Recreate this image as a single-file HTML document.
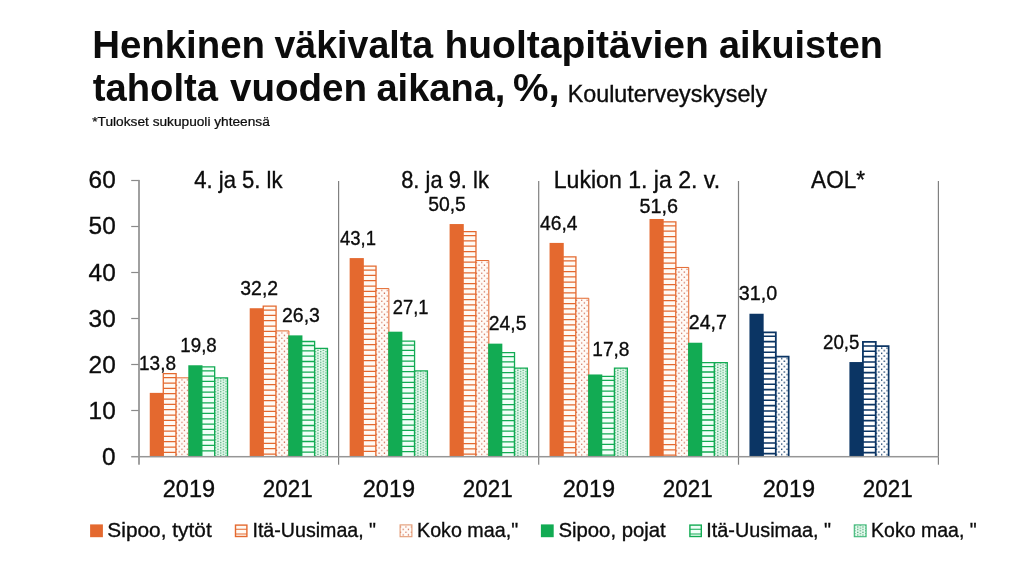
<!DOCTYPE html>
<html lang="fi"><head><meta charset="utf-8"><title>Henkinen väkivalta huoltapitävien aikuisten taholta vuoden aikana</title>
<style>
html,body{margin:0;padding:0;background:#fff}
svg{display:block}
text{font-family:"Liberation Sans", sans-serif;fill:#0c0c0c}
.sub,.axis,.legend,.data{stroke:#0c0c0c;stroke-width:0.35px}
.note{stroke:#0c0c0c;stroke-width:0.25px}
</style></head><body>
<svg width="1024" height="563" viewBox="0 0 1024 563">
<rect width="1024" height="563" fill="#fff"/>
<defs>
<pattern id="od" width="5.333" height="5.333" patternUnits="userSpaceOnUse"><rect width="5.333" height="5.333" fill="#FFFBF7"/><rect x="-0.15" y="1.4" width="1.2" height="1.2" fill="#C9563A"/><rect x="2.45" y="4.0" width="1.2" height="1.2" fill="#C9563A"/></pattern>
<pattern id="nd" width="5.333" height="5.333" patternUnits="userSpaceOnUse"><rect width="5.333" height="5.333" fill="#FFFFFF"/><rect x="-0.2" y="1.3" width="1.4" height="1.4" fill="#0B3564"/><rect x="2.4" y="3.9" width="1.4" height="1.4" fill="#0B3564"/></pattern>
<pattern id="gd" width="5.333" height="2.667" patternUnits="userSpaceOnUse"><rect width="5.333" height="2.667" fill="#E4FBEE"/><rect x="0.15" y="0.2" width="1.15" height="0.95" fill="#08803D"/><rect x="2.82" y="1.53" width="1.15" height="0.95" fill="#08803D"/></pattern>
</defs>
<g id="axes">
<rect x="138.1" y="179.9" width="1.8" height="284.8" fill="#969696"/>
<rect x="131.2" y="179.90" width="7.5" height="1.2" fill="#8A8A8A"/>
<rect x="131.2" y="225.90" width="7.5" height="1.2" fill="#8A8A8A"/>
<rect x="131.2" y="271.90" width="7.5" height="1.2" fill="#8A8A8A"/>
<rect x="131.2" y="317.90" width="7.5" height="1.2" fill="#8A8A8A"/>
<rect x="131.2" y="363.90" width="7.5" height="1.2" fill="#8A8A8A"/>
<rect x="131.2" y="409.90" width="7.5" height="1.2" fill="#8A8A8A"/>
<rect x="338.00" y="181" width="1.2" height="283.7" fill="#808080"/>
<rect x="538.10" y="181" width="1.2" height="283.7" fill="#808080"/>
<rect x="737.90" y="181" width="1.2" height="283.7" fill="#808080"/>
<rect x="937.80" y="181" width="1.2" height="283.7" fill="#808080"/>
</g>
<g id="bars">
<rect x="149.76" y="392.87" width="14.19" height="63.63" fill="#E4692F"/>
<g transform="translate(163.28 373.70)"><rect width="12.85" height="82.80" fill="#FFFAF4"/><path d="M0 4.00h12.85M0 9.33h12.85M0 14.67h12.85M0 20.00h12.85M0 25.33h12.85M0 30.66h12.85M0 36.00h12.85M0 41.33h12.85M0 46.66h12.85M0 52.00h12.85M0 57.33h12.85M0 62.66h12.85M0 68.00h12.85M0 73.33h12.85M0 78.66h12.85" stroke="#E4692F" stroke-width="1.25" fill="none"/><path d="M0 82.80V0H12.85V82.80" fill="none" stroke="#E4692F" stroke-width="1.3"/></g>
<g transform="translate(176.12 377.84)"><rect width="12.85" height="78.66" fill="url(#od)"/><path d="M0 78.66V0H12.85V78.66" fill="none" stroke="#E4692F" stroke-width="1.0"/></g>
<rect x="188.31" y="365.27" width="14.19" height="91.23" fill="#12AB53"/>
<g transform="translate(201.83 366.80)"><rect width="12.85" height="89.70" fill="#F1FFF8"/><path d="M0 4.00h12.85M0 9.33h12.85M0 14.67h12.85M0 20.00h12.85M0 25.33h12.85M0 30.66h12.85M0 36.00h12.85M0 41.33h12.85M0 46.66h12.85M0 52.00h12.85M0 57.33h12.85M0 62.66h12.85M0 68.00h12.85M0 73.33h12.85M0 78.66h12.85M0 83.99h12.85" stroke="#12AB53" stroke-width="1.3" fill="none"/><path d="M0 89.70V0H12.85V89.70" fill="none" stroke="#12AB53" stroke-width="1.3"/></g>
<g transform="translate(214.68 377.84)"><rect width="12.85" height="78.66" fill="url(#gd)"/><path d="M0 78.66V0H12.85V78.66" fill="none" stroke="#12AB53" stroke-width="1.3"/></g>
<rect x="249.71" y="308.23" width="14.19" height="148.27" fill="#E4692F"/>
<g transform="translate(263.23 306.08)"><rect width="12.85" height="150.42" fill="#FFFAF4"/><path d="M0 4.00h12.85M0 9.33h12.85M0 14.67h12.85M0 20.00h12.85M0 25.33h12.85M0 30.66h12.85M0 36.00h12.85M0 41.33h12.85M0 46.66h12.85M0 52.00h12.85M0 57.33h12.85M0 62.66h12.85M0 68.00h12.85M0 73.33h12.85M0 78.66h12.85M0 83.99h12.85M0 89.33h12.85M0 94.66h12.85M0 99.99h12.85M0 105.33h12.85M0 110.66h12.85M0 115.99h12.85M0 121.33h12.85M0 126.66h12.85M0 131.99h12.85M0 137.32h12.85M0 142.66h12.85M0 147.99h12.85" stroke="#E4692F" stroke-width="1.25" fill="none"/><path d="M0 150.42V0H12.85V150.42" fill="none" stroke="#E4692F" stroke-width="1.3"/></g>
<g transform="translate(276.07 330.92)"><rect width="12.85" height="125.58" fill="url(#od)"/><path d="M0 125.58V0H12.85V125.58" fill="none" stroke="#E4692F" stroke-width="1.0"/></g>
<rect x="288.25" y="335.37" width="14.19" height="121.13" fill="#12AB53"/>
<g transform="translate(301.77 341.50)"><rect width="12.85" height="115.00" fill="#F1FFF8"/><path d="M0 4.00h12.85M0 9.33h12.85M0 14.67h12.85M0 20.00h12.85M0 25.33h12.85M0 30.66h12.85M0 36.00h12.85M0 41.33h12.85M0 46.66h12.85M0 52.00h12.85M0 57.33h12.85M0 62.66h12.85M0 68.00h12.85M0 73.33h12.85M0 78.66h12.85M0 83.99h12.85M0 89.33h12.85M0 94.66h12.85M0 99.99h12.85M0 105.33h12.85M0 110.66h12.85" stroke="#12AB53" stroke-width="1.3" fill="none"/><path d="M0 115.00V0H12.85V115.00" fill="none" stroke="#12AB53" stroke-width="1.3"/></g>
<g transform="translate(314.62 348.40)"><rect width="12.85" height="108.10" fill="url(#gd)"/><path d="M0 108.10V0H12.85V108.10" fill="none" stroke="#12AB53" stroke-width="1.3"/></g>
<rect x="349.65" y="258.09" width="14.19" height="198.41" fill="#E4692F"/>
<g transform="translate(363.18 266.06)"><rect width="12.85" height="190.44" fill="#FFFAF4"/><path d="M0 4.00h12.85M0 9.33h12.85M0 14.67h12.85M0 20.00h12.85M0 25.33h12.85M0 30.66h12.85M0 36.00h12.85M0 41.33h12.85M0 46.66h12.85M0 52.00h12.85M0 57.33h12.85M0 62.66h12.85M0 68.00h12.85M0 73.33h12.85M0 78.66h12.85M0 83.99h12.85M0 89.33h12.85M0 94.66h12.85M0 99.99h12.85M0 105.33h12.85M0 110.66h12.85M0 115.99h12.85M0 121.33h12.85M0 126.66h12.85M0 131.99h12.85M0 137.32h12.85M0 142.66h12.85M0 147.99h12.85M0 153.32h12.85M0 158.66h12.85M0 163.99h12.85M0 169.32h12.85M0 174.66h12.85M0 179.99h12.85M0 185.32h12.85" stroke="#E4692F" stroke-width="1.25" fill="none"/><path d="M0 190.44V0H12.85V190.44" fill="none" stroke="#E4692F" stroke-width="1.3"/></g>
<g transform="translate(376.02 288.60)"><rect width="12.85" height="167.90" fill="url(#od)"/><path d="M0 167.90V0H12.85V167.90" fill="none" stroke="#E4692F" stroke-width="1.0"/></g>
<rect x="388.20" y="331.69" width="14.19" height="124.81" fill="#12AB53"/>
<g transform="translate(401.72 341.04)"><rect width="12.85" height="115.46" fill="#F1FFF8"/><path d="M0 4.00h12.85M0 9.33h12.85M0 14.67h12.85M0 20.00h12.85M0 25.33h12.85M0 30.66h12.85M0 36.00h12.85M0 41.33h12.85M0 46.66h12.85M0 52.00h12.85M0 57.33h12.85M0 62.66h12.85M0 68.00h12.85M0 73.33h12.85M0 78.66h12.85M0 83.99h12.85M0 89.33h12.85M0 94.66h12.85M0 99.99h12.85M0 105.33h12.85M0 110.66h12.85" stroke="#12AB53" stroke-width="1.3" fill="none"/><path d="M0 115.46V0H12.85V115.46" fill="none" stroke="#12AB53" stroke-width="1.3"/></g>
<g transform="translate(414.57 370.94)"><rect width="12.85" height="85.56" fill="url(#gd)"/><path d="M0 85.56V0H12.85V85.56" fill="none" stroke="#12AB53" stroke-width="1.3"/></g>
<rect x="449.60" y="224.05" width="14.19" height="232.45" fill="#E4692F"/>
<g transform="translate(463.12 231.56)"><rect width="12.85" height="224.94" fill="#FFFAF4"/><path d="M0 4.00h12.85M0 9.33h12.85M0 14.67h12.85M0 20.00h12.85M0 25.33h12.85M0 30.66h12.85M0 36.00h12.85M0 41.33h12.85M0 46.66h12.85M0 52.00h12.85M0 57.33h12.85M0 62.66h12.85M0 68.00h12.85M0 73.33h12.85M0 78.66h12.85M0 83.99h12.85M0 89.33h12.85M0 94.66h12.85M0 99.99h12.85M0 105.33h12.85M0 110.66h12.85M0 115.99h12.85M0 121.33h12.85M0 126.66h12.85M0 131.99h12.85M0 137.32h12.85M0 142.66h12.85M0 147.99h12.85M0 153.32h12.85M0 158.66h12.85M0 163.99h12.85M0 169.32h12.85M0 174.66h12.85M0 179.99h12.85M0 185.32h12.85M0 190.65h12.85M0 195.99h12.85M0 201.32h12.85M0 206.65h12.85M0 211.99h12.85M0 217.32h12.85M0 222.65h12.85" stroke="#E4692F" stroke-width="1.25" fill="none"/><path d="M0 224.94V0H12.85V224.94" fill="none" stroke="#E4692F" stroke-width="1.3"/></g>
<g transform="translate(475.97 260.54)"><rect width="12.85" height="195.96" fill="url(#od)"/><path d="M0 195.96V0H12.85V195.96" fill="none" stroke="#E4692F" stroke-width="1.0"/></g>
<rect x="488.15" y="343.65" width="14.19" height="112.85" fill="#12AB53"/>
<g transform="translate(501.67 352.54)"><rect width="12.85" height="103.96" fill="#F1FFF8"/><path d="M0 4.00h12.85M0 9.33h12.85M0 14.67h12.85M0 20.00h12.85M0 25.33h12.85M0 30.66h12.85M0 36.00h12.85M0 41.33h12.85M0 46.66h12.85M0 52.00h12.85M0 57.33h12.85M0 62.66h12.85M0 68.00h12.85M0 73.33h12.85M0 78.66h12.85M0 83.99h12.85M0 89.33h12.85M0 94.66h12.85M0 99.99h12.85" stroke="#12AB53" stroke-width="1.3" fill="none"/><path d="M0 103.96V0H12.85V103.96" fill="none" stroke="#12AB53" stroke-width="1.3"/></g>
<g transform="translate(514.52 368.18)"><rect width="12.85" height="88.32" fill="url(#gd)"/><path d="M0 88.32V0H12.85V88.32" fill="none" stroke="#12AB53" stroke-width="1.3"/></g>
<rect x="549.56" y="242.91" width="14.19" height="213.59" fill="#E4692F"/>
<g transform="translate(563.08 256.86)"><rect width="12.85" height="199.64" fill="#FFFAF4"/><path d="M0 4.00h12.85M0 9.33h12.85M0 14.67h12.85M0 20.00h12.85M0 25.33h12.85M0 30.66h12.85M0 36.00h12.85M0 41.33h12.85M0 46.66h12.85M0 52.00h12.85M0 57.33h12.85M0 62.66h12.85M0 68.00h12.85M0 73.33h12.85M0 78.66h12.85M0 83.99h12.85M0 89.33h12.85M0 94.66h12.85M0 99.99h12.85M0 105.33h12.85M0 110.66h12.85M0 115.99h12.85M0 121.33h12.85M0 126.66h12.85M0 131.99h12.85M0 137.32h12.85M0 142.66h12.85M0 147.99h12.85M0 153.32h12.85M0 158.66h12.85M0 163.99h12.85M0 169.32h12.85M0 174.66h12.85M0 179.99h12.85M0 185.32h12.85M0 190.65h12.85M0 195.99h12.85" stroke="#E4692F" stroke-width="1.25" fill="none"/><path d="M0 199.64V0H12.85V199.64" fill="none" stroke="#E4692F" stroke-width="1.3"/></g>
<g transform="translate(575.93 298.26)"><rect width="12.85" height="158.24" fill="url(#od)"/><path d="M0 158.24V0H12.85V158.24" fill="none" stroke="#E4692F" stroke-width="1.0"/></g>
<rect x="588.11" y="374.47" width="14.19" height="82.03" fill="#12AB53"/>
<g transform="translate(601.63 376.46)"><rect width="12.85" height="80.04" fill="#F1FFF8"/><path d="M0 4.00h12.85M0 9.33h12.85M0 14.67h12.85M0 20.00h12.85M0 25.33h12.85M0 30.66h12.85M0 36.00h12.85M0 41.33h12.85M0 46.66h12.85M0 52.00h12.85M0 57.33h12.85M0 62.66h12.85M0 68.00h12.85M0 73.33h12.85M0 78.66h12.85" stroke="#12AB53" stroke-width="1.3" fill="none"/><path d="M0 80.04V0H12.85V80.04" fill="none" stroke="#12AB53" stroke-width="1.3"/></g>
<g transform="translate(614.48 368.18)"><rect width="12.85" height="88.32" fill="url(#gd)"/><path d="M0 88.32V0H12.85V88.32" fill="none" stroke="#12AB53" stroke-width="1.3"/></g>
<rect x="649.51" y="218.99" width="14.19" height="237.51" fill="#E4692F"/>
<g transform="translate(663.03 221.90)"><rect width="12.85" height="234.60" fill="#FFFAF4"/><path d="M0 4.00h12.85M0 9.33h12.85M0 14.67h12.85M0 20.00h12.85M0 25.33h12.85M0 30.66h12.85M0 36.00h12.85M0 41.33h12.85M0 46.66h12.85M0 52.00h12.85M0 57.33h12.85M0 62.66h12.85M0 68.00h12.85M0 73.33h12.85M0 78.66h12.85M0 83.99h12.85M0 89.33h12.85M0 94.66h12.85M0 99.99h12.85M0 105.33h12.85M0 110.66h12.85M0 115.99h12.85M0 121.33h12.85M0 126.66h12.85M0 131.99h12.85M0 137.32h12.85M0 142.66h12.85M0 147.99h12.85M0 153.32h12.85M0 158.66h12.85M0 163.99h12.85M0 169.32h12.85M0 174.66h12.85M0 179.99h12.85M0 185.32h12.85M0 190.65h12.85M0 195.99h12.85M0 201.32h12.85M0 206.65h12.85M0 211.99h12.85M0 217.32h12.85M0 222.65h12.85M0 227.99h12.85M0 233.32h12.85" stroke="#E4692F" stroke-width="1.25" fill="none"/><path d="M0 234.60V0H12.85V234.60" fill="none" stroke="#E4692F" stroke-width="1.3"/></g>
<g transform="translate(675.88 267.44)"><rect width="12.85" height="189.06" fill="url(#od)"/><path d="M0 189.06V0H12.85V189.06" fill="none" stroke="#E4692F" stroke-width="1.0"/></g>
<rect x="688.06" y="342.73" width="14.19" height="113.77" fill="#12AB53"/>
<g transform="translate(701.58 362.66)"><rect width="12.85" height="93.84" fill="#F1FFF8"/><path d="M0 4.00h12.85M0 9.33h12.85M0 14.67h12.85M0 20.00h12.85M0 25.33h12.85M0 30.66h12.85M0 36.00h12.85M0 41.33h12.85M0 46.66h12.85M0 52.00h12.85M0 57.33h12.85M0 62.66h12.85M0 68.00h12.85M0 73.33h12.85M0 78.66h12.85M0 83.99h12.85M0 89.33h12.85" stroke="#12AB53" stroke-width="1.3" fill="none"/><path d="M0 93.84V0H12.85V93.84" fill="none" stroke="#12AB53" stroke-width="1.3"/></g>
<g transform="translate(714.43 362.66)"><rect width="12.85" height="93.84" fill="url(#gd)"/><path d="M0 93.84V0H12.85V93.84" fill="none" stroke="#12AB53" stroke-width="1.3"/></g>
<rect x="749.46" y="313.75" width="14.19" height="142.75" fill="#0B3564"/>
<g transform="translate(762.98 332.30)"><rect width="12.85" height="124.20" fill="#FFFFFF"/><path d="M0 4.00h12.85M0 9.33h12.85M0 14.67h12.85M0 20.00h12.85M0 25.33h12.85M0 30.66h12.85M0 36.00h12.85M0 41.33h12.85M0 46.66h12.85M0 52.00h12.85M0 57.33h12.85M0 62.66h12.85M0 68.00h12.85M0 73.33h12.85M0 78.66h12.85M0 83.99h12.85M0 89.33h12.85M0 94.66h12.85M0 99.99h12.85M0 105.33h12.85M0 110.66h12.85M0 115.99h12.85M0 121.33h12.85" stroke="#0B3564" stroke-width="1.55" fill="none"/><path d="M0 124.20V0H12.85V124.20" fill="none" stroke="#0B3564" stroke-width="1.8"/></g>
<g transform="translate(775.83 356.68)"><rect width="12.85" height="99.82" fill="url(#nd)"/><path d="M0 99.82V0H12.85V99.82" fill="none" stroke="#0B3564" stroke-width="1.7"/></g>
<rect x="849.41" y="362.05" width="14.19" height="94.45" fill="#0B3564"/>
<g transform="translate(862.93 341.96)"><rect width="12.85" height="114.54" fill="#FFFFFF"/><path d="M0 4.00h12.85M0 9.33h12.85M0 14.67h12.85M0 20.00h12.85M0 25.33h12.85M0 30.66h12.85M0 36.00h12.85M0 41.33h12.85M0 46.66h12.85M0 52.00h12.85M0 57.33h12.85M0 62.66h12.85M0 68.00h12.85M0 73.33h12.85M0 78.66h12.85M0 83.99h12.85M0 89.33h12.85M0 94.66h12.85M0 99.99h12.85M0 105.33h12.85M0 110.66h12.85" stroke="#0B3564" stroke-width="1.55" fill="none"/><path d="M0 114.54V0H12.85V114.54" fill="none" stroke="#0B3564" stroke-width="1.8"/></g>
<g transform="translate(875.78 346.10)"><rect width="12.85" height="110.40" fill="url(#nd)"/><path d="M0 110.40V0H12.85V110.40" fill="none" stroke="#0B3564" stroke-width="1.7"/></g>
</g>
<rect x="131.2" y="455.95" width="807.8" height="1.5" fill="#969696"/>
<g id="legend">
<rect x="90.1" y="524.4" width="12.8" height="12.8" fill="#E4692F"/>
<rect x="235.50" y="525.10" width="11.40" height="11.40" fill="#FFFAF4" stroke="#E4692F" stroke-width="1.4"/><path d="M235.50 529.30h11.40M235.50 534.00h11.40" stroke="#E4692F" stroke-width="1.1"/>
<g transform="translate(400.10 524.90)"><rect width="11.80" height="11.80" fill="url(#od)" stroke="#E39A74" stroke-width="1.1"/></g>
<rect x="540.9" y="524.4" width="12.8" height="12.8" fill="#12AB53"/>
<rect x="689.90" y="525.10" width="11.40" height="11.40" fill="#F1FFF8" stroke="#12AB53" stroke-width="1.4"/><path d="M689.90 529.30h11.40M689.90 534.00h11.40" stroke="#12AB53" stroke-width="1.1"/>
<g transform="translate(854.30 524.90)"><rect width="11.80" height="11.80" fill="url(#gd)" stroke="#3DB877" stroke-width="1.1"/></g>
</g>
<g id="labels">
<text transform="translate(92.19 58.10) scale(1.0110 1)" font-size="38.0" font-weight="700" class="title">Henkinen</text>
<text transform="translate(274.42 58.10) scale(0.9893 1)" font-size="38.0" font-weight="700" class="title">väkivalta</text>
<text transform="translate(444.45 58.10) scale(1.0263 1)" font-size="38.0" font-weight="700" class="title">huoltapitävien</text>
<text transform="translate(718.97 58.10) scale(0.9950 1)" font-size="38.0" font-weight="700" class="title">aikuisten</text>
<text transform="translate(92.79 101.40) scale(1.0057 1)" font-size="38.0" font-weight="700" class="title">taholta</text>
<text transform="translate(230.01 101.40) scale(1.0151 1)" font-size="38.0" font-weight="700" class="title">vuoden</text>
<text transform="translate(376.47 101.40) scale(1.0008 1)" font-size="38.0" font-weight="700" class="title">aikana,</text>
<text transform="translate(513.08 101.40) scale(1.0509 1)" font-size="38.0" font-weight="700" class="title">%,</text>
<text transform="translate(567.66 101.90) scale(0.9881 1)" font-size="23.6" class="sub">Kouluterveyskysely</text>
<text transform="translate(92.30 125.50) scale(0.9993 1)" font-size="13.7" class="note">*Tulokset sukupuoli yhteensä</text>
<text transform="translate(88.57 188.35) scale(1.0350 1)" font-size="23.6" class="axis">60</text>
<text transform="translate(88.57 234.47) scale(1.0350 1)" font-size="23.6" class="axis">50</text>
<text transform="translate(88.57 280.59) scale(1.0350 1)" font-size="23.6" class="axis">40</text>
<text transform="translate(88.57 326.71) scale(1.0350 1)" font-size="23.6" class="axis">30</text>
<text transform="translate(88.57 372.83) scale(1.0350 1)" font-size="23.6" class="axis">20</text>
<text transform="translate(88.57 418.95) scale(1.0350 1)" font-size="23.6" class="axis">10</text>
<text transform="translate(102.03 465.07) scale(1.0350 1)" font-size="23.6" class="axis">0</text>
<text transform="translate(194.26 187.50) scale(0.9347 1)" font-size="23.6" class="axis">4. ja 5. lk</text>
<text transform="translate(401.14 187.50) scale(0.9296 1)" font-size="23.6" class="axis">8. ja 9. lk</text>
<text transform="translate(553.78 187.50) scale(0.9782 1)" font-size="23.6" class="axis">Lukion 1. ja 2. v.</text>
<text transform="translate(811.12 187.50) scale(0.9542 1)" font-size="23.6" class="axis">AOL*</text>
<text transform="translate(162.74 497.30) scale(0.9980 1)" font-size="23.6" class="axis">2019</text>
<text transform="translate(262.80 497.30) scale(0.9502 1)" font-size="23.6" class="axis">2021</text>
<text transform="translate(362.74 497.30) scale(0.9980 1)" font-size="23.6" class="axis">2019</text>
<text transform="translate(462.80 497.30) scale(0.9502 1)" font-size="23.6" class="axis">2021</text>
<text transform="translate(562.74 497.30) scale(0.9980 1)" font-size="23.6" class="axis">2019</text>
<text transform="translate(662.80 497.30) scale(0.9502 1)" font-size="23.6" class="axis">2021</text>
<text transform="translate(762.74 497.30) scale(0.9980 1)" font-size="23.6" class="axis">2019</text>
<text transform="translate(862.80 497.30) scale(0.9502 1)" font-size="23.6" class="axis">2021</text>
<text transform="translate(107.36 537.00) scale(0.9989 1)" font-size="20.9" class="legend">Sipoo, tytöt</text>
<text transform="translate(252.46 537.00) scale(0.9391 1)" font-size="20.9" class="legend">Itä-Uusimaa, &quot;</text>
<text transform="translate(417.00 537.00) scale(0.9428 1)" font-size="20.9" class="legend">Koko maa,&quot;</text>
<text transform="translate(558.39 537.00) scale(0.9735 1)" font-size="20.9" class="legend">Sipoo, pojat</text>
<text transform="translate(706.35 537.00) scale(0.9476 1)" font-size="20.9" class="legend">Itä-Uusimaa, &quot;</text>
<text transform="translate(871.11 537.00) scale(0.9333 1)" font-size="20.9" class="legend">Koko maa, &quot;</text>
<text transform="translate(139.03 370.30) scale(0.9088 1)" font-size="20.9" class="data">13,8</text>
<text transform="translate(180.35 352.10) scale(0.8957 1)" font-size="20.9" class="data">19,8</text>
<text transform="translate(240.24 294.70) scale(0.9309 1)" font-size="20.9" class="data">32,2</text>
<text transform="translate(281.98 322.20) scale(0.9327 1)" font-size="20.9" class="data">26,3</text>
<text transform="translate(339.98 244.80) scale(0.8841 1)" font-size="20.9" class="data">43,1</text>
<text transform="translate(392.74 314.30) scale(0.8776 1)" font-size="20.9" class="data">27,1</text>
<text transform="translate(428.14 210.80) scale(0.9254 1)" font-size="20.9" class="data">50,5</text>
<text transform="translate(488.79 330.20) scale(0.9241 1)" font-size="20.9" class="data">24,5</text>
<text transform="translate(539.97 229.70) scale(0.9224 1)" font-size="20.9" class="data">46,4</text>
<text transform="translate(592.32 355.50) scale(0.9140 1)" font-size="20.9" class="data">17,8</text>
<text transform="translate(639.51 212.60) scale(0.9491 1)" font-size="20.9" class="data">51,6</text>
<text transform="translate(688.78 329.30) scale(0.9350 1)" font-size="20.9" class="data">24,7</text>
<text transform="translate(738.83 299.60) scale(0.9448 1)" font-size="20.9" class="data">31,0</text>
<text transform="translate(823.02 348.60) scale(0.8956 1)" font-size="20.9" class="data">20,5</text>
</g>
</svg>
</body></html>
